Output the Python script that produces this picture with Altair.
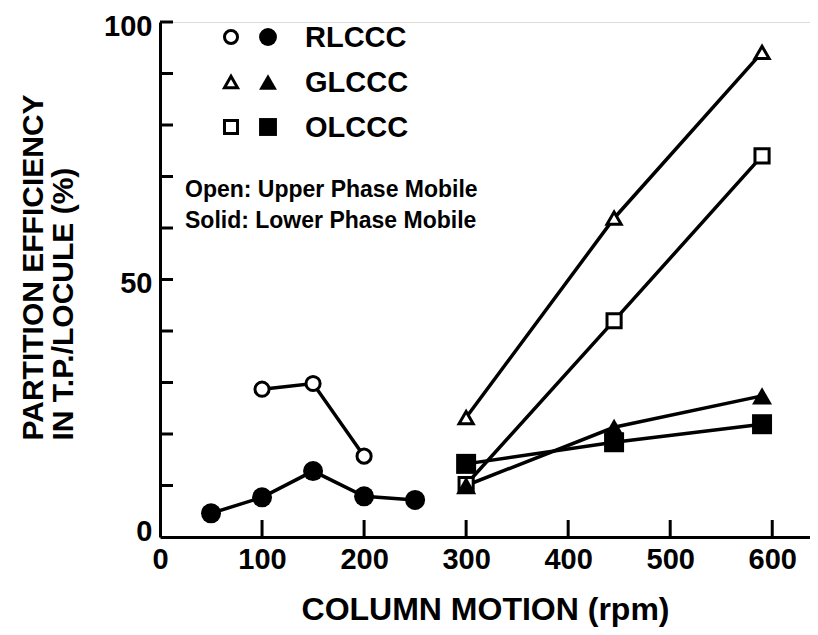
import altair as alt
import pandas as pd

# ---- data ----
series_names = ["RLCCC", "GLCCC", "OLCCC"]

r_open_rpm = [100, 150, 200]
r_open_eff = [28.7, 29.8, 15.7]
r_solid_rpm = [50, 100, 150, 200, 250]
r_solid_eff = [4.6, 7.7, 12.8, 7.9, 7.2]

g_open_rpm = [300, 445, 590]
g_open_eff = [23.2, 61.9, 94.1]
g_solid_rpm = [300, 445, 590]
g_solid_eff = [10.0, 21.3, 27.4]

o_open_rpm = [300, 445, 590]
o_open_eff = [10.2, 42.0, 74.0]
o_solid_rpm = [300, 445, 590]
o_solid_eff = [14.2, 18.4, 21.9]

x_tick_labels = [0, 100, 200, 300, 400, 500, 600]
y_tick_labels = [0, 50, 100]
x_minor_ticks = [100, 200, 300, 400, 500, 600]
y_minor_ticks = [10, 20, 30, 40, 50, 60, 70, 80, 90, 100]

legend_notes = ["Open: Upper Phase Mobile", "Solid: Lower Phase Mobile"]

# ---- build table ----
rows = []
for name, phase, xs, ys in [
    ("RLCCC", "open", r_open_rpm, r_open_eff),
    ("RLCCC", "solid", r_solid_rpm, r_solid_eff),
    ("GLCCC", "open", g_open_rpm, g_open_eff),
    ("GLCCC", "solid", g_solid_rpm, g_solid_eff),
    ("OLCCC", "open", o_open_rpm, o_open_eff),
    ("OLCCC", "solid", o_solid_rpm, o_solid_eff),
]:
    for x, y in zip(xs, ys):
        rows.append({"rpm": x, "eff": y, "series": name, "phase": phase,
                     "line": name + "-" + phase})
df = pd.DataFrame(rows)

FONT = "Liberation Sans"

xscale = alt.Scale(domain=[0, 637], nice=False, zero=False)
yscale = alt.Scale(domain=[0, 100], nice=False)
shape_scale = alt.Scale(domain=series_names, range=["circle", "triangle-up", "square"])

xaxis = alt.Axis(values=x_tick_labels, ticks=False, grid=False,
                 domainColor="black", domainWidth=3,
                 labelFont=FONT, labelFontSize=29, labelFontWeight="bold",
                 labelColor="black", labelPadding=8, labelFlush=False,
                 title="COLUMN MOTION (rpm)", titleFont=FONT, titleFontSize=32,
                 titleFontWeight="bold", titleColor="black",
                 titleBaseline="alphabetic", titleY=82)
yaxis = alt.Axis(values=y_tick_labels, ticks=False, grid=False,
                 domainColor="black", domainWidth=3,
                 labelFont=FONT, labelFontSize=29, labelFontWeight="bold",
                 labelColor="black", labelPadding=8, labelBaseline="middle",
                 labelOffset={"condition": {"test": "datum.value == 0", "value": -6},
                              "value": 4},
                 labelFlush=False,
                 title=["PARTITION EFFICIENCY", "IN T.P./LOCULE (%)"],
                 titleFont=FONT, titleFontSize=30, titleFontWeight="bold",
                 titleColor="black", titleAngle=270, titleAlign="left",
                 titleBaseline="alphabetic", titleLineHeight=30,
                 titleX=-118, titleY=418)

X = alt.X("rpm:Q", scale=xscale, axis=xaxis)
Y = alt.Y("eff:Q", scale=yscale, axis=yaxis)

lines = alt.Chart(df).mark_line(color="black", strokeWidth=3.5).encode(
    x=X, y=Y, detail="line:N")

open_pts = alt.Chart(df[df.phase == "open"]).mark_point(
    filled=True, fill="white", stroke="black", strokeWidth=3, size=200, opacity=1
).encode(x=X, y=Y, shape=alt.Shape("series:N", scale=shape_scale, legend=None))

solid_pts = alt.Chart(df[df.phase == "solid"]).mark_point(
    filled=True, color="black", size=400, opacity=1
).encode(x=X, y=Y, shape=alt.Shape("series:N", scale=shape_scale, legend=None))

# inward ticks
ytick_df = pd.DataFrame({"eff": y_minor_ticks})
yticks = alt.Chart(ytick_df).mark_rule(color="black", strokeWidth=3).encode(
    y=Y, x=alt.value(0), x2=alt.value(13))
xtick_df = pd.DataFrame({"rpm": x_minor_ticks})
xticks = alt.Chart(xtick_df).mark_rule(color="black", strokeWidth=3).encode(
    x=X, y=alt.value(515), y2=alt.value(498))

# custom legend
legend_layers = []
for i, name in enumerate(series_names):
    ldf = pd.DataFrame({"series": [name]})
    yy = 15 + 45 * i
    legend_layers.append(alt.Chart(ldf).mark_point(
        filled=True, fill="white", stroke="black", strokeWidth=3, size=170, opacity=1
    ).encode(x=alt.value(71), y=alt.value(yy),
             shape=alt.Shape("series:N", scale=shape_scale, legend=None)))
    legend_layers.append(alt.Chart(ldf).mark_point(
        filled=True, color="black", size=320, opacity=1
    ).encode(x=alt.value(108), y=alt.value(yy),
             shape=alt.Shape("series:N", scale=shape_scale, legend=None)))
    legend_layers.append(alt.Chart(ldf).mark_text(
        align="left", baseline="middle", font=FONT, fontSize=29,
        fontWeight="bold", color="black"
    ).encode(x=alt.value(145), y=alt.value(yy + 1), text="series:N"))

for j, note in enumerate(legend_notes):
    ndf = pd.DataFrame({"note": [note]})
    legend_layers.append(alt.Chart(ndf).mark_text(
        align="left", baseline="middle", font=FONT, fontSize=23,
        fontWeight="bold", color="black"
    ).encode(x=alt.value(25), y=alt.value(168 + 31 * j), text="note:N"))

chart = alt.layer(
    lines, yticks, xticks, open_pts, solid_pts, *legend_layers
).properties(
    width=650, height=515,
    padding={"left": 152, "top": 14, "right": 0, "bottom": 90},
    autosize=alt.AutoSizeParams(type="none"),
).configure_view(stroke=None).configure(background="white")

chart.save("out.html", embed_options={"renderer": "svg", "actions": False})
